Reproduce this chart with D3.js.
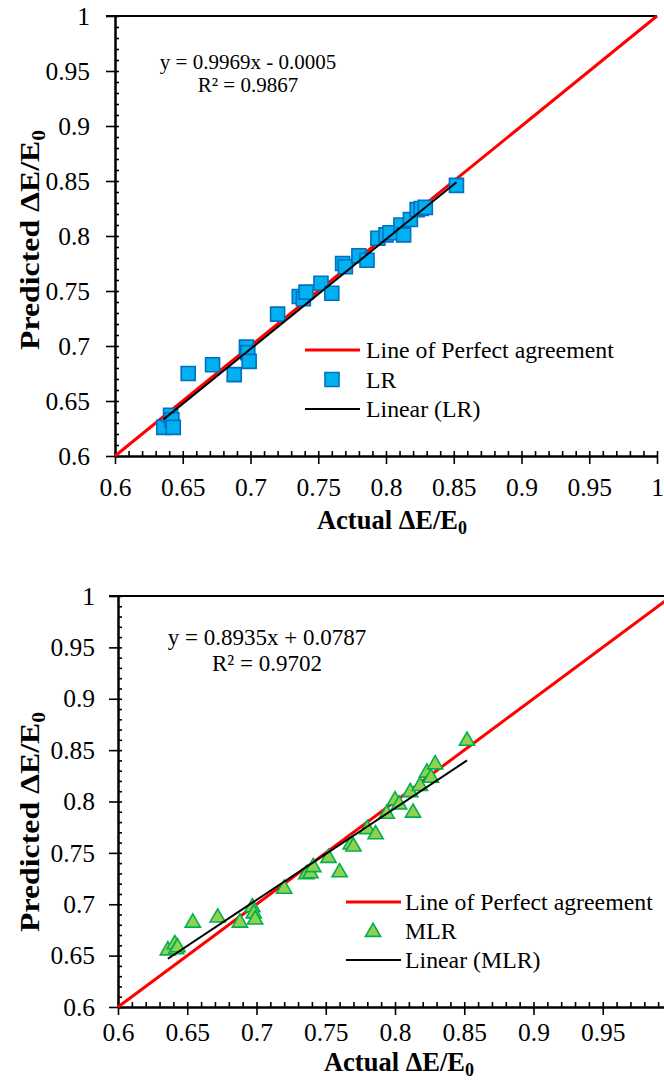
<!DOCTYPE html>
<html>
<head>
<meta charset="utf-8">
<script src="https://cdn.jsdelivr.net/npm/d3@7"></script>
<style>
  body { margin: 0; background: #fff; }
  svg { display: block; background: #fff; }
  text { font-family: "Liberation Serif", "Times New Roman", serif; fill: #000; }
</style>
</head>
<body>
<svg id="chart" width="664" height="1082"></svg>
<script>
// Measured energy-change ratio for each specimen
const actualValues = [0.636, 0.641, 0.642, 0.643, 0.654, 0.672, 0.688, 0.697, 0.698, 0.699,
                      0.720, 0.736, 0.739, 0.741, 0.752, 0.760, 0.768, 0.770, 0.780, 0.786,
                      0.794, 0.800, 0.803, 0.811, 0.813, 0.818, 0.823, 0.826, 0.829, 0.852];
// Linear regression (LR) predictions
const lrPredicted = [0.626, 0.637, 0.633, 0.626, 0.675, 0.683, 0.674, 0.699, 0.694, 0.686,
                     0.729, 0.745, 0.743, 0.749, 0.757, 0.748, 0.775, 0.772, 0.782, 0.778,
                     0.798, 0.801, 0.803, 0.810, 0.801, 0.815, 0.824, 0.825, 0.826, 0.846];
// Multiple linear regression (MLR) predictions
const mlrPredicted = [0.656, 0.662, 0.657, 0.659, 0.683, 0.688, 0.683, 0.698, 0.692, 0.686,
                      0.716, 0.730, 0.731, 0.737, 0.746, 0.732, 0.759, 0.757, 0.774, 0.769,
                      0.789, 0.802, 0.798, 0.810, 0.790, 0.816, 0.829, 0.824, 0.837, 0.860];

// Axis ticks
const majorTicks = [0.6, 0.65, 0.7, 0.75, 0.8, 0.85, 0.9, 0.95, 1];
const minorTicks = d3.range(60, 101).map(i => i / 100);
const axisDomain = [0.6, 1];

// Fitted trendlines: [slope, intercept] and R²
const lrTrend = [0.9969, -0.0005];
const lrR2 = 0.9867;
const mlrTrend = [0.8935, 0.0787];
const mlrR2 = 0.9702;

// Legend entries
const agreementLabel = "Line of Perfect agreement";
const lrLabels = [agreementLabel, "LR", "Linear (LR)"];
const mlrLabels = [agreementLabel, "MLR", "Linear (MLR)"];

const svg = d3.select("#chart");
svg.append("rect").attr("width", 664).attr("height", 1082).attr("fill", "#fff");

const fmt = d3.format("~g");
const serif = '"Liberation Serif", "Times New Roman", serif';

function equationText(coef) {
  const b = coef[1];
  return `y = ${coef[0].toFixed(4)}x ${b < 0 ? "-" : "+"} ${Math.abs(b).toFixed(4)}`;
}

function drawPanel(o) {
  const g = svg.append("g");
  const x = d3.scaleLinear().domain(axisDomain).range([o.left, o.right]);
  const y = d3.scaleLinear().domain(axisDomain).range([o.bottom, o.top]);

  // top frame line
  g.append("line")
    .attr("x1", o.left - 9).attr("x2", o.right)
    .attr("y1", y(1)).attr("y2", y(1))
    .attr("stroke", "#000").attr("stroke-width", 2);

  // x axis: outward major ticks with labels, inward minor ticks
  const xa = g.append("g").attr("transform", `translate(0,${o.bottom})`)
    .call(d3.axisBottom(x).tickValues(majorTicks).tickFormat(fmt)
      .tickSize(8).tickSizeOuter(0).tickPadding(o.xPad));
  g.append("g").attr("transform", `translate(0,${o.bottom})`)
    .call(d3.axisTop(x).tickValues(minorTicks).tickFormat("")
      .tickSize(5).tickSizeOuter(0));

  // y axis
  const ya = g.append("g").attr("transform", `translate(${o.left},0)`)
    .call(d3.axisLeft(y).tickValues(majorTicks).tickFormat(fmt)
      .tickSize(9).tickSizeOuter(0).tickPadding(o.yPad));
  g.append("g").attr("transform", `translate(${o.left},0)`)
    .call(d3.axisRight(y).tickValues(minorTicks).tickFormat("")
      .tickSize(4).tickSizeOuter(0));

  g.selectAll(".domain").attr("stroke", "#000").attr("stroke-width", 2);
  g.selectAll(".tick line").attr("stroke", "#000").attr("stroke-width", 1.6);
  xa.selectAll("text").style("font-size", o.tickFont + "px").style("font-family", serif);
  ya.selectAll("text").style("font-size", o.tickFont + "px").style("font-family", serif);

  // axis titles
  const xt = g.append("text")
    .attr("x", o.xTitleX).attr("y", o.xTitleY)
    .attr("text-anchor", "middle")
    .style("font-size", o.titleFont + "px").style("font-weight", "bold");
  xt.append("tspan").text("Actual \u0394E/E");
  xt.append("tspan").attr("dy", 5).style("font-size", (o.titleFont * 0.68) + "px").text("0");

  // the vertical title is drawn slightly elongated along its length
  const yt = g.append("text")
    .attr("transform", `translate(${o.yTitleX},${o.yTitleY}) rotate(-90) scale(${o.yTitleStretch},1)`)
    .attr("text-anchor", "middle")
    .style("font-size", o.titleFont + "px").style("font-weight", "bold");
  yt.append("tspan").text("Predicted \u0394E/E");
  yt.append("tspan").attr("dy", 6).style("font-size", (o.titleFont * 0.68) + "px").text("0");

  // line of perfect agreement
  g.append("line")
    .attr("x1", x(axisDomain[0])).attr("y1", y(axisDomain[0]))
    .attr("x2", x(axisDomain[1])).attr("y2", y(axisDomain[1]))
    .attr("stroke", "#ff0000").attr("stroke-width", 3);

  // markers
  const pts = actualValues.map((a, i) => [a, o.predicted[i]]);
  g.append("g").selectAll("path").data(pts).join("path")
    .attr("transform", d => `translate(${x(d[0])},${y(d[1]) + o.markerShift})`)
    .attr("d", d3.symbol(o.symbol, o.symbolSize))
    .attr("fill", o.fill).attr("stroke", o.stroke).attr("stroke-width", 1.6);

  // linear trendline over the data range
  const [a, b] = o.trend;
  const x0 = d3.min(actualValues), x1 = d3.max(actualValues);
  g.append("line")
    .attr("x1", x(x0)).attr("y1", y(a * x0 + b))
    .attr("x2", x(x1)).attr("y2", y(a * x1 + b))
    .attr("stroke", "#000").attr("stroke-width", 2);

  // equation and R²
  g.append("text").attr("x", o.eqX).attr("y", o.eqY)
    .attr("text-anchor", "middle").attr("dominant-baseline", "central")
    .style("font-size", o.eqFont + "px").text(equationText(o.trend));
  g.append("text").attr("x", o.eqX).attr("y", o.eqY + o.eqGap)
    .attr("text-anchor", "middle").attr("dominant-baseline", "central")
    .style("font-size", o.eqFont + "px").text(`R\u00b2 = ${o.r2}`);

  // legend
  const L = o.legend;
  const lg = g.append("g");
  lg.append("line").attr("x1", L.x).attr("x2", L.x + 55).attr("y1", L.y).attr("y2", L.y)
    .attr("stroke", "#ff0000").attr("stroke-width", 3);
  lg.append("path").attr("transform", `translate(${L.x + 27},${L.y + L.gap + o.markerShift})`)
    .attr("d", d3.symbol(o.symbol, o.symbolSize))
    .attr("fill", o.fill).attr("stroke", o.stroke).attr("stroke-width", 1.6);
  lg.append("line").attr("x1", L.x).attr("x2", L.x + 55)
    .attr("y1", L.y + 2 * L.gap).attr("y2", L.y + 2 * L.gap)
    .attr("stroke", "#000").attr("stroke-width", 2);
  lg.selectAll("text.lab").data(o.labels).join("text").attr("class", "lab")
    .attr("x", L.x + L.textDx).attr("y", (d, i) => L.y + i * L.gap)
    .attr("dominant-baseline", "central")
    .style("font-size", L.font + "px").text(d => d);
}

drawPanel({
  left: 115, right: 657, top: 16, bottom: 456,
  xPad: 14, yPad: 16, tickFont: 25.5, titleFont: 26.5, yTitleStretch: 1.2,
  xTitleX: 392, xTitleY: 529, yTitleX: 39, yTitleY: 240,
  predicted: lrPredicted, trend: lrTrend, r2: lrR2,
  symbol: d3.symbolSquare, symbolSize: 196, markerShift: 0,
  fill: "#00b0f0", stroke: "#0070c0",
  eqX: 248, eqY: 62, eqGap: 23, eqFont: 21,
  labels: lrLabels,
  legend: { x: 305, y: 350, gap: 29.5, textDx: 61, font: 23.8 }
});

drawPanel({
  left: 118, right: 672, top: 596, bottom: 1007,
  xPad: 8, yPad: 14, tickFont: 25.5, titleFont: 26.5, yTitleStretch: 1.2,
  xTitleX: 399, xTitleY: 1071, yTitleX: 39, yTitleY: 822,
  predicted: mlrPredicted, trend: mlrTrend, r2: mlrR2,
  symbol: d3.symbolTriangle, symbolSize: 100, markerShift: 1,
  fill: "#92d050", stroke: "#00b050",
  eqX: 267, eqY: 637, eqGap: 26, eqFont: 23,
  labels: mlrLabels,
  legend: { x: 346, y: 902, gap: 29, textDx: 59, font: 23.8 }
});
</script>
</body>
</html>
